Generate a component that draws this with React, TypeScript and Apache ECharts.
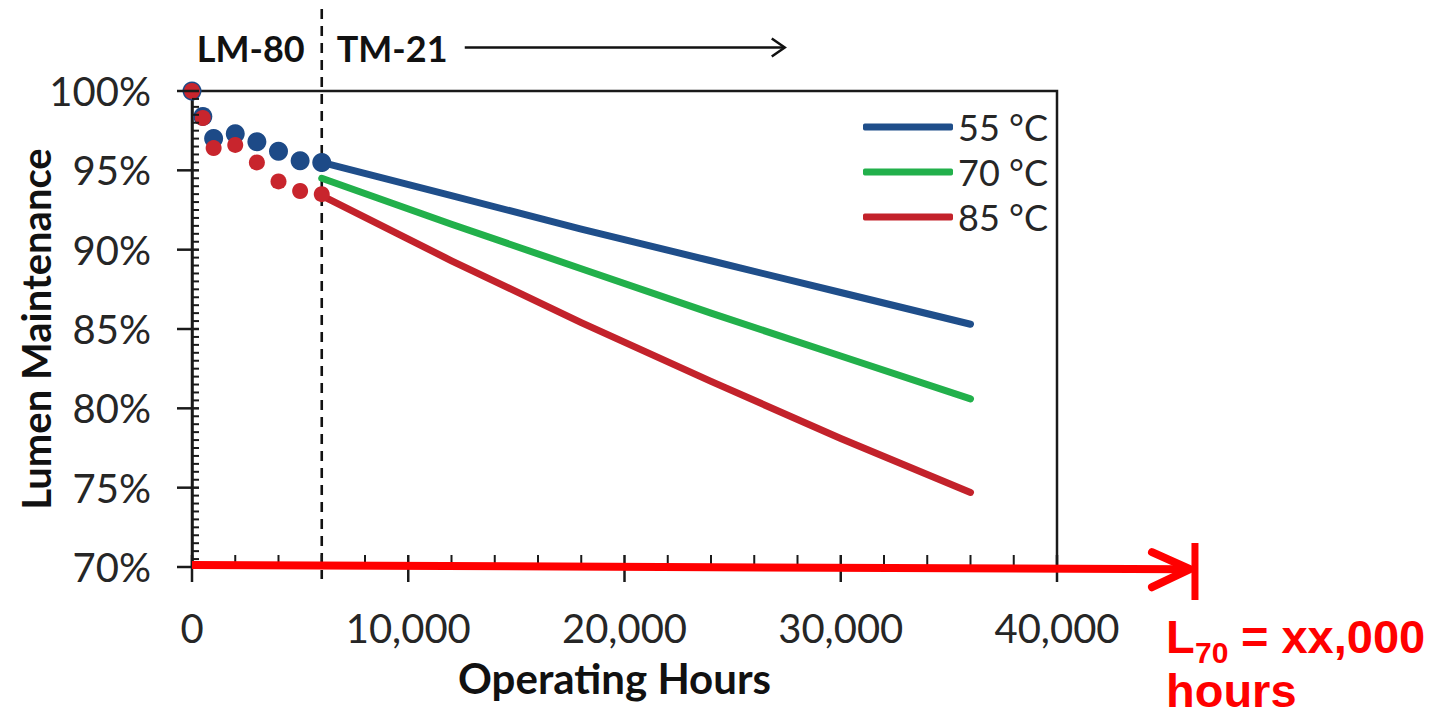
import React, { useEffect, useRef } from 'react';
import * as echarts from 'echarts';

// ---- data ----
const X_MIN = 0;
const X_MAX = 40000;
const X_STEP = 10000;
const X_MINOR_STEP = 2000;
const Y_MIN = 70;
const Y_MAX = 100;
const Y_STEP = 5;
const Y_MINOR_STEP = 0.5;

const SERIES_NAMES = ['55 °C', '70 °C', '85 °C'];
const SERIES_COLORS = ['#1f4e8a', '#22b04b', '#c3222b'];

// LM-80 measured points (hours, % lumen maintenance)
const LM80_HOURS = [0, 500, 1000, 2000, 3000, 4000, 5000, 6000];
const LM80_55C = [100, 98.4, 97.0, 97.3, 96.8, 96.2, 95.6, 95.5];
const LM80_85C = [100, 98.3, 96.4, 96.6, 95.5, 94.3, 93.7, 93.5];

// TM-21 projections
const TM21_HOURS = [6000, 12000, 18000, 24000, 30000, 36000];
const TM21_55C = [95.5, 93.4, 91.3, 89.3, 87.3, 85.3];
const TM21_70C = [94.5, 91.6, 88.8, 86.0, 83.3, 80.6];
const TM21_85C = [93.4, 89.3, 85.4, 81.7, 78.1, 74.7];

// annotations
const LM80_END_HOURS = 6000;
const L70_ARROW_HOURS = [0, 46150];
const L70_ARROW_LEVEL = [70.13, 69.86];
const L70_MARK_HOURS = 46380;

const FONT = 'Lato, "Open Sans", "DejaVu Sans", sans-serif';
const RED_FONT = '"Liberation Sans", Arial, sans-serif';
const AXIS_COLOR = '#1a1a1a';
const TEXT_COLOR = '#262626';

const zip = (xs: number[], ys: number[]) => xs.map((x, i) => [x, ys[i]]);
const fmtThousands = (v: number) => String(v).replace(/\B(?=(\d{3})+(?!\d))/g, ',');

// tick list: [value, kind]  kind 0 = x major, 1 = x minor, 2 = y major, 3 = y minor
function buildTicks() {
  const out: number[][] = [];
  const nx = Math.round((X_MAX - X_MIN) / X_MINOR_STEP);
  for (let i = 0; i <= nx; i++) {
    const v = X_MIN + i * X_MINOR_STEP;
    out.push([v, Math.abs(v % X_STEP) < 1e-6 ? 0 : 1]);
  }
  const ny = Math.round((Y_MAX - Y_MIN) / Y_MINOR_STEP);
  for (let i = 0; i <= ny; i++) {
    const v = Y_MIN + i * Y_MINOR_STEP;
    const r = (v - Y_MIN) / Y_STEP;
    out.push([v, Math.abs(r - Math.round(r)) < 1e-6 ? 2 : 3]);
  }
  return out;
}

function buildOption(): any {
  const lineSeries = [TM21_55C, TM21_70C, TM21_85C].map((vals, i) => ({
    name: SERIES_NAMES[i],
    type: 'line',
    data: zip(TM21_HOURS, vals),
    showSymbol: false,
    symbol: 'none',
    smooth: false,
    z: 3,
    lineStyle: { color: SERIES_COLORS[i], width: 7, cap: 'round', join: 'round' },
    itemStyle: { color: SERIES_COLORS[i] },
  }));

  const tickSeries = {
    name: 'ticks',
    type: 'custom',
    clip: false,
    silent: true,
    z: 6,
    data: buildTicks(),
    renderItem: (_p: any, api: any) => {
      const v = api.value(0);
      const kind = api.value(1);
      if (kind <= 1) {
        const p = api.coord([v, Y_MIN]);
        const inLen = 12;
        const outLen = kind === 0 ? 15 : 0;
        return {
          type: 'line',
          shape: { x1: p[0], y1: p[1] - inLen, x2: p[0], y2: p[1] + outLen },
          style: { stroke: AXIS_COLOR, lineWidth: kind === 0 ? 2.5 : 2 },
        };
      }
      const p = api.coord([X_MIN, v]);
      const inLen = 7;
      const outLen = kind === 2 ? 15 : 0;
      return {
        type: 'line',
        shape: { x1: p[0] - outLen, y1: p[1], x2: p[0] + inLen, y2: p[1] },
        style: { stroke: AXIS_COLOR, lineWidth: kind === 2 ? 2.5 : 2 },
      };
    },
  };

  return {
    animation: false,
    backgroundColor: '#ffffff',
    grid: {
      left: 192,
      right: 386,
      top: 91,
      bottom: 147,
      show: true,
      borderColor: AXIS_COLOR,
      borderWidth: 2.5,
      backgroundColor: 'transparent',
      containLabel: false,
      outerBoundsMode: 'none',
    },
    legend: {
      data: SERIES_NAMES,
      orient: 'vertical',
      left: 858,
      top: 104,
      icon: 'roundRect',
      itemWidth: 90,
      itemHeight: 7,
      itemGap: 9,
      textStyle: { fontFamily: FONT, fontSize: 36, lineHeight: 36, color: TEXT_COLOR },
    },
    xAxis: {
      type: 'value',
      min: X_MIN,
      max: X_MAX,
      interval: X_STEP,
      position: 'bottom',
      splitLine: { show: false },
      name: 'Operating Hours',
      nameLocation: 'middle',
      nameGap: 90,
      nameMoveOverlap: false,
      nameTextStyle: {
        fontFamily: FONT,
        fontSize: 42,
        fontWeight: 'bold',
        color: '#111',
        padding: [0, 20, 0, 0],
      },
      axisLine: { show: true, onZero: false, lineStyle: { color: AXIS_COLOR, width: 2.5 } },
      axisTick: { show: false },
      minorTick: { show: false },
      axisLabel: {
        margin: 41,
        fontFamily: FONT,
        fontSize: 40,
        color: TEXT_COLOR,
        formatter: (v: number) => fmtThousands(v),
      },
    },
    yAxis: {
      type: 'value',
      min: Y_MIN,
      max: Y_MAX,
      interval: Y_STEP,
      position: 'left',
      splitLine: { show: false },
      name: 'Lumen Maintenance',
      nameLocation: 'middle',
      nameRotate: 90,
      nameGap: 136,
      nameMoveOverlap: false,
      nameTextStyle: { fontFamily: FONT, fontSize: 40, fontWeight: 'bold', color: '#111' },
      axisLine: { show: true, onZero: false, lineStyle: { color: AXIS_COLOR, width: 2.5 } },
      axisTick: { show: false },
      minorTick: { show: false },
      axisLabel: {
        margin: 41,
        fontFamily: FONT,
        fontSize: 40,
        color: TEXT_COLOR,
        formatter: (v: number) => `${v}%`,
      },
    },
    series: [
      ...lineSeries,
      {
        name: 'LM-80 ' + SERIES_NAMES[0],
        type: 'scatter',
        data: zip(LM80_HOURS, LM80_55C),
        symbol: 'circle',
        symbolSize: 19,
        z: 4,
        itemStyle: { color: '#1d4a87', opacity: 1 },
      },
      {
        name: 'LM-80 ' + SERIES_NAMES[2],
        type: 'scatter',
        data: zip(LM80_HOURS, LM80_85C),
        symbol: 'circle',
        symbolSize: 16,
        z: 5,
        itemStyle: { color: '#c8252d', opacity: 1 },
      },
      tickSeries,
    ],
  };
}

function buildGraphic(px: (h: number, v: number) => number[]) {
  const top = px(LM80_END_HOURS, Y_MAX);
  const bottom = px(LM80_END_HOURS, Y_MIN);
  const dx = top[0];
  const axisY = bottom[1];

  const a0 = px(L70_ARROW_HOURS[0], L70_ARROW_LEVEL[0]);
  const a1 = px(L70_ARROW_HOURS[1], L70_ARROW_LEVEL[1]);
  const mark = px(L70_MARK_HOURS, Y_MIN);

  const RED = '#ff0000';
  const labelY = 47.5;

  return [
    {
      type: 'line',
      z: 1,
      shape: { x1: dx, y1: top[1] - 82, x2: dx, y2: axisY + 12 },
      style: { stroke: '#111', lineWidth: 2.6, lineDash: [10, 7] },
    },
    {
      type: 'text',
      z: 100,
      x: dx - 17,
      y: labelY,
      style: { text: 'LM-80', font: `bold 36px ${FONT}`, fill: '#111', align: 'right', verticalAlign: 'middle' },
    },
    {
      type: 'text',
      z: 100,
      x: dx + 15,
      y: labelY,
      style: { text: 'TM-21', font: `bold 36px ${FONT}`, fill: '#111', align: 'left', verticalAlign: 'middle' },
    },
    {
      type: 'line',
      z: 100,
      shape: { x1: dx + 143, y1: labelY, x2: dx + 462, y2: labelY },
      style: { stroke: '#111', lineWidth: 2.5 },
    },
    {
      type: 'polyline',
      z: 100,
      shape: { points: [[dx + 450, labelY - 9], [dx + 463, labelY], [dx + 450, labelY + 9]] },
      style: { stroke: '#111', lineWidth: 2.5, fill: 'none', lineJoin: 'miter' },
    },
    {
      type: 'line',
      z: 100,
      shape: { x1: a0[0], y1: a0[1], x2: a1[0] - 3, y2: a1[1] },
      style: { stroke: RED, lineWidth: 8 },
    },
    {
      type: 'polyline',
      z: 100,
      shape: {
        points: [
          [a1[0] - 38, a1[1] - 17],
          [a1[0], a1[1]],
          [a1[0] - 38, a1[1] + 18],
        ],
      },
      style: { stroke: RED, lineWidth: 8, fill: 'none', lineCap: 'round', lineJoin: 'round' },
    },
    {
      type: 'line',
      z: 100,
      shape: { x1: mark[0], y1: axisY - 24, x2: mark[0], y2: axisY + 33 },
      style: { stroke: RED, lineWidth: 7 },
    },
    {
      type: 'text',
      z: 100,
      x: mark[0] - 29,
      y: 636,
      style: { text: 'L', font: `bold 47px ${RED_FONT}`, fill: RED, align: 'left', verticalAlign: 'middle', lineHeight: 40 },
    },
    {
      type: 'text',
      z: 100,
      x: mark[0],
      y: 652.5,
      style: { text: '70', font: `bold 30px ${RED_FONT}`, fill: RED, align: 'left', verticalAlign: 'middle', lineHeight: 26 },
    },
    {
      type: 'text',
      z: 100,
      x: mark[0] + 46,
      y: 636,
      style: { text: '= xx,000', font: `bold 47px ${RED_FONT}`, fill: RED, align: 'left', verticalAlign: 'middle', lineHeight: 40 },
    },
    {
      type: 'text',
      z: 100,
      x: mark[0] - 29,
      y: 690,
      style: { text: 'hours', font: `bold 47px ${RED_FONT}`, fill: RED, align: 'left', verticalAlign: 'middle', lineHeight: 38 },
    },
  ];
}

export default function App() {
  const ref = useRef<HTMLDivElement>(null);

  useEffect(() => {
    const el = ref.current!;
    // first pass: measure the library's scales to place the annotations
    const probe = echarts.init(el, null, { renderer: 'svg' });
    probe.setOption(buildOption());
    const px = (h: number, v: number) =>
      probe.convertToPixel({ xAxisIndex: 0, yAxisIndex: 0 } as any, [h, v]) as number[];
    const graphic = buildGraphic(px);
    probe.dispose();

    // final pass: one single setOption with everything
    const chart = echarts.init(el, null, { renderer: 'svg' });
    chart.setOption({ ...buildOption(), graphic });

    return () => chart.dispose();
  }, []);

  return (
    <div
      ref={ref}
      style={{ position: 'fixed', left: 0, top: 0, width: 1443, height: 714, background: '#fff' }}
    />
  );
}
